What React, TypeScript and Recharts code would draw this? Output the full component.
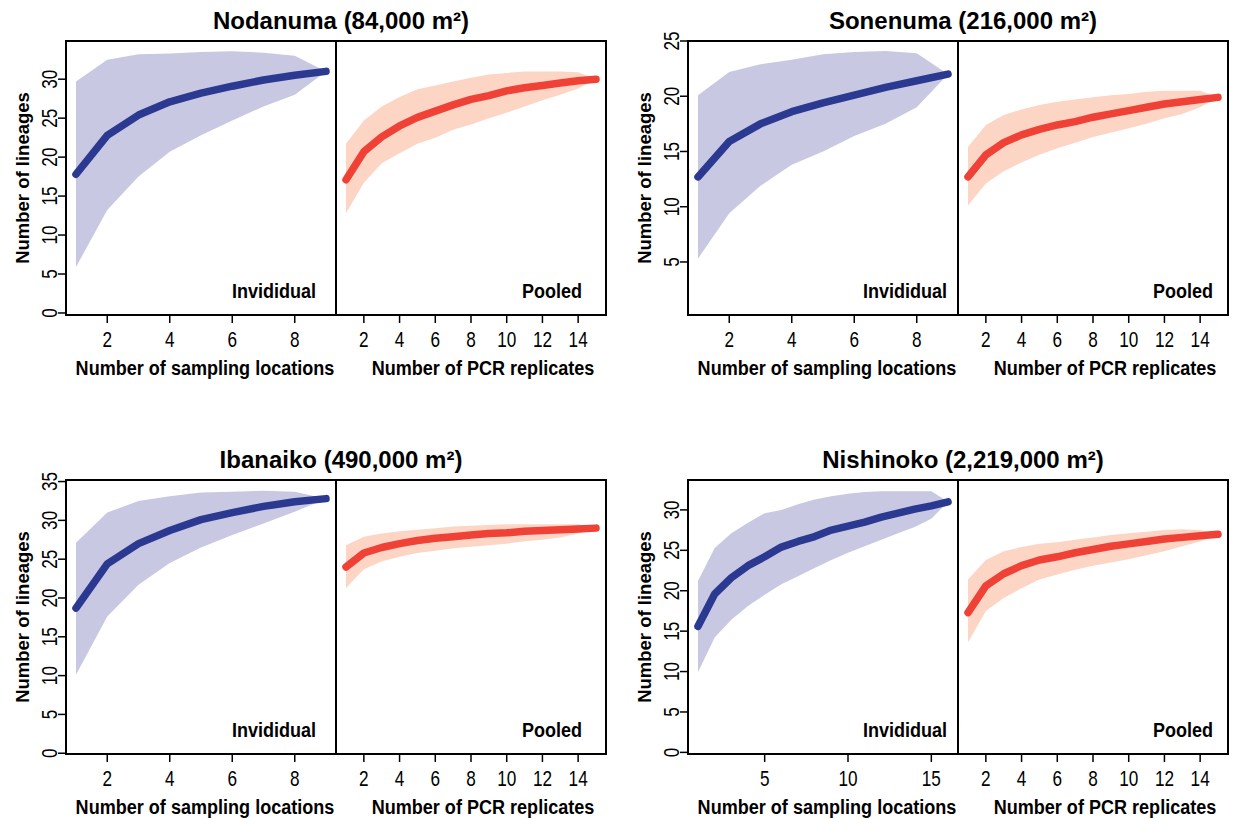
import React from "react";
import { ComposedChart, Area, Line, XAxis, YAxis, ReferenceArea } from "recharts";

const SANS = "'Liberation Sans', Arial, Helvetica, sans-serif";

const BLUE_BAND = "#c8c8e3";
const BLUE_LINE = "#2b3990";
const RED_BAND = "#fdd5c5";
const RED_LINE = "#ef4136";

// x values and tick labels
const locations9 = [1, 2, 3, 4, 5, 6, 7, 8, 9];
const locations16 = [1, 2, 3, 4, 5, 6, 7, 8, 9, 10, 11, 12, 13, 14, 15, 16];
const replicates = [1, 2, 3, 4, 5, 6, 7, 8, 9, 10, 11, 12, 13, 14, 15];
const ticksLoc9 = [2, 4, 6, 8];
const ticksLoc16 = [5, 10, 15];
const ticksRep = [2, 4, 6, 8, 10, 12, 14];
const yTicks30 = [0, 5, 10, 15, 20, 25, 30];
const yTicks25 = [5, 10, 15, 20, 25];
const yTicks35 = [0, 5, 10, 15, 20, 25, 30, 35];

// Nodanuma
const nodaIndMean = [17.8, 22.8, 25.4, 27.1, 28.2, 29.1, 29.9, 30.5, 31.0];
const nodaIndLo = [5.9, 13.2, 17.5, 20.7, 22.8, 24.7, 26.5, 28.0, 31.0];
const nodaIndHi = [29.7, 32.5, 33.2, 33.3, 33.5, 33.6, 33.4, 33.0, 31.0];
const nodaPoolMean = [17.1, 20.7, 22.6, 24.0, 25.1, 25.9, 26.7, 27.4, 27.9, 28.5, 28.9, 29.2, 29.5, 29.8, 30.0];
const nodaPoolLo = [12.8, 16.7, 19.2, 20.5, 21.7, 22.5, 23.5, 24.2, 25.0, 25.7, 26.5, 27.3, 28.0, 28.8, 30.0];
const nodaPoolHi = [21.7, 24.7, 26.5, 27.7, 28.7, 29.2, 29.7, 30.2, 30.6, 30.8, 31.0, 31.0, 31.0, 30.9, 30.0];

// Sonenuma
const soneIndMean = [12.7, 15.9, 17.5, 18.6, 19.4, 20.1, 20.8, 21.4, 22.0];
const soneIndLo = [5.3, 9.4, 11.9, 13.8, 15.0, 16.4, 17.5, 19.0, 22.0];
const soneIndHi = [20.1, 22.2, 22.9, 23.3, 23.8, 24.0, 24.1, 23.9, 22.0];
const sonePoolMean = [12.7, 14.7, 15.8, 16.5, 17.0, 17.4, 17.7, 18.1, 18.4, 18.7, 19.0, 19.3, 19.5, 19.7, 19.9];
const sonePoolLo = [10.1, 12.1, 13.2, 14.0, 14.7, 15.3, 15.8, 16.3, 16.7, 17.1, 17.5, 18.0, 18.4, 19.0, 19.9];
const sonePoolHi = [15.4, 17.4, 18.3, 18.8, 19.2, 19.5, 19.7, 19.9, 20.1, 20.2, 20.4, 20.5, 20.5, 20.5, 19.9];

// Ibanaiko
const ibanIndMean = [18.7, 24.4, 27.0, 28.7, 30.1, 31.0, 31.8, 32.4, 32.8];
const ibanIndLo = [10.1, 17.6, 21.7, 24.5, 26.5, 28.1, 29.6, 31.1, 32.8];
const ibanIndHi = [27.1, 31.0, 32.5, 33.1, 33.6, 33.7, 33.8, 33.7, 32.8];
const ibanPoolMean = [24.0, 25.8, 26.5, 27.0, 27.4, 27.7, 27.9, 28.1, 28.3, 28.4, 28.6, 28.7, 28.8, 28.9, 29.0];
const ibanPoolLo = [21.3, 23.7, 24.7, 25.3, 25.8, 26.1, 26.4, 26.6, 26.8, 27.0, 27.3, 27.5, 27.8, 28.3, 29.0];
const ibanPoolHi = [26.8, 27.9, 28.3, 28.6, 28.8, 29.0, 29.2, 29.3, 29.4, 29.5, 29.5, 29.5, 29.5, 29.5, 29.0];

// Nishinoko
const nishIndMean = [15.6, 19.6, 21.6, 23.1, 24.2, 25.4, 26.1, 26.7, 27.5, 28.0, 28.5, 29.1, 29.6, 30.1, 30.5, 31.0];
const nishIndLo = [9.9, 14.2, 16.4, 18.1, 19.5, 20.8, 21.8, 22.8, 23.8, 24.7, 25.5, 26.3, 27.1, 27.9, 28.9, 31.0];
const nishIndHi = [21.2, 25.3, 27.1, 28.4, 29.6, 30.0, 30.7, 31.3, 31.7, 32.0, 32.2, 32.3, 32.3, 32.3, 32.3, 31.0];
const nishPoolMean = [17.3, 20.6, 22.1, 23.1, 23.8, 24.2, 24.7, 25.1, 25.5, 25.8, 26.1, 26.4, 26.6, 26.8, 27.0];
const nishPoolLo = [13.6, 17.5, 19.1, 20.3, 21.4, 22.0, 22.6, 23.1, 23.5, 23.9, 24.4, 24.9, 25.5, 26.1, 27.0];
const nishPoolHi = [21.4, 23.8, 24.9, 25.4, 25.8, 26.0, 26.3, 26.6, 26.9, 27.1, 27.3, 27.5, 27.6, 27.5, 27.0];

type Row = { x: number; mean: number; band: [number, number] };

const rows = (xs: number[], mean: number[], lo: number[], hi: number[]): Row[] =>
  xs.map((x, i) => ({ x, mean: mean[i], band: [lo[i], hi[i]] }));

// no narrow font installed, so squeeze Liberation Sans horizontally
const NARROW_SCALE = 0.78;

const XTick = (props: any) => {
  const { x, y, payload } = props;
  return (
    <text
      transform={`translate(${x},${y}) scale(${NARROW_SCALE},1)`}
      textAnchor="middle"
      dy="0.71em"
      fill="#000"
      fontSize={22}
      fontFamily={SANS}
    >
      {payload.value}
    </text>
  );
};

const YTick = (props: any) => {
  const { x, y, payload } = props;
  return (
    <text
      transform={`translate(${x},${y}) rotate(-90) scale(${NARROW_SCALE},1)`}
      textAnchor="middle"
      fill="#000"
      fontSize={22}
      fontFamily={SANS}
    >
      {payload.value}
    </text>
  );
};

const axisTitle = (text: string, shift: number) => (props: any) => {
  const vb = props.viewBox;
  const cx = vb.x + vb.width / 2 + shift;
  const by = vb.y + vb.height - 4;
  return (
    <text
      transform={`translate(${cx},${by}) scale(0.86,1)`}
      textAnchor="middle"
      fill="#000"
      fontSize={21}
      fontWeight="bold"
      fontFamily={SANS}
    >
      {text}
    </text>
  );
};

const tagLabel = (text: string, right: number) => (props: any) => {
  const vb = props.viewBox;
  return (
    <text
      transform={`translate(${vb.x + vb.width - right},${vb.y + vb.height - 17}) scale(0.9,1)`}
      textAnchor="end"
      fill="#000"
      fontSize={20}
      fontWeight="bold"
      fontFamily={SANS}
    >
      {text}
    </text>
  );
};

type SubProps = {
  left: number;
  top: number;
  data: Row[];
  xDomain: [number, number];
  xTicks: number[];
  yDomain: [number, number];
  yTicks: number[];
  showY: boolean;
  bandColor: string;
  lineColor: string;
  tag: string;
  tagRight: number;
  xTitle: string;
  xTitleShift: number;
};

const PLOT_W = 270;
const PLOT_H = 274;

function SubPlot(p: SubProps) {
  const padL = p.showY ? 66 : 0;
  const padR = 14;
  const padT = 12;
  const padB = 72;
  return (
    <div style={{ position: "absolute", left: p.left - padL, top: p.top - padT }}>
      <ComposedChart
        width={padL + PLOT_W + padR}
        height={padT + PLOT_H + padB}
        data={p.data}
        margin={{ top: padT, right: padR, bottom: padB - 64, left: 0 }}
      >
        <XAxis
          type="number"
          dataKey="x"
          domain={p.xDomain}
          ticks={p.xTicks}
          interval={0}
          allowDataOverflow
          axisLine={false}
          height={64}
          tickSize={8}
          tickMargin={8}
          tickLine={{ stroke: "#000", strokeWidth: 1.5 }}
          tick={XTick}
          label={{ content: axisTitle(p.xTitle, p.xTitleShift) }}
        />
        {p.showY ? (
          <YAxis
            type="number"
            domain={p.yDomain}
            ticks={p.yTicks}
            interval={0}
            allowDataOverflow
            axisLine={false}
            width={66}
            tickSize={8}
            tickMargin={1}
            tickLine={{ stroke: "#000", strokeWidth: 1.5 }}
            tick={YTick}
            label={{
              value: "Number of lineages",
              angle: -90,
              position: "insideLeft",
              offset: 22,
              fill: "#000",
              fontSize: 18.5,
              fontWeight: "bold",
              fontFamily: SANS,
              style: { textAnchor: "middle" },
            }}
          />
        ) : (
          <YAxis type="number" hide domain={p.yDomain} allowDataOverflow />
        )}
        <Area
          type="linear"
          dataKey="band"
          fill={p.bandColor}
          fillOpacity={1}
          stroke="none"
          isAnimationActive={false}
        />
        <Line
          type="linear"
          dataKey="mean"
          stroke={p.lineColor}
          strokeWidth={7.5}
          strokeLinecap="round"
          strokeLinejoin="round"
          dot={false}
          isAnimationActive={false}
        />
        <ReferenceArea
          x1={p.xDomain[0]}
          x2={p.xDomain[1]}
          y1={p.yDomain[0]}
          y2={p.yDomain[1]}
          fill="none"
          fillOpacity={0}
          stroke="#000"
          strokeWidth={2}
          ifOverflow="visible"
          label={{ content: tagLabel(p.tag, p.tagRight) }}
        />
      </ComposedChart>
    </div>
  );
}

type PanelProps = {
  left: number;
  top: number;
  title: string;
  yDomain: [number, number];
  yTicks: number[];
  indData: Row[];
  indDomain: [number, number];
  indTicks: number[];
  poolData: Row[];
  tagRight: number;
};

function Panel(p: PanelProps) {
  return (
    <>
      <div
        style={{
          position: "absolute",
          left: p.left + PLOT_W - 300,
          width: 610,
          top: p.top - 32,
          textAlign: "center",
          fontFamily: SANS,
          fontWeight: "bold",
          fontSize: 24,
          lineHeight: "24px",
          color: "#000",
        }}
      >
        {p.title}
      </div>
      <SubPlot
        left={p.left}
        top={p.top}
        data={p.indData}
        xDomain={p.indDomain}
        xTicks={p.indTicks}
        yDomain={p.yDomain}
        yTicks={p.yTicks}
        showY
        bandColor={BLUE_BAND}
        lineColor={BLUE_LINE}
        tag="Invididual"
        tagRight={p.tagRight}
        xTitle="Number of sampling locations"
        xTitleShift={4}
      />
      <SubPlot
        left={p.left + PLOT_W}
        top={p.top}
        data={p.poolData}
        xDomain={[0.44, 15.56]}
        xTicks={ticksRep}
        yDomain={p.yDomain}
        yTicks={p.yTicks}
        showY={false}
        bandColor={RED_BAND}
        lineColor={RED_LINE}
        tag="Pooled"
        tagRight={p.tagRight + 4}
        xTitle="Number of PCR replicates"
        xTitleShift={12}
      />
    </>
  );
}

export default function App() {
  return (
    <div style={{ position: "absolute", left: 0, top: 0, width: 1236, height: 819, background: "#fff" }}>
      <Panel
        left={66}
        top={41}
        title="Nodanuma (84,000 m²)"
        yDomain={[-0.26, 34.9]}
        yTicks={yTicks30}
        indData={rows(locations9, nodaIndMean, nodaIndLo, nodaIndHi)}
        indDomain={[0.68, 9.32]}
        indTicks={ticksLoc9}
        poolData={rows(replicates, nodaPoolMean, nodaPoolLo, nodaPoolHi)}
        tagRight={20}
      />
      <Panel
        left={688}
        top={41}
        title="Sonenuma (216,000 m²)"
        yDomain={[0.2, 25]}
        yTicks={yTicks25}
        indData={rows(locations9, soneIndMean, soneIndLo, soneIndHi)}
        indDomain={[0.68, 9.32]}
        indTicks={ticksLoc9}
        poolData={rows(replicates, sonePoolMean, sonePoolLo, sonePoolHi)}
        tagRight={11}
      />
      <Panel
        left={66}
        top={480}
        title="Ibanaiko (490,000 m²)"
        yDomain={[-0.1, 35.2]}
        yTicks={yTicks35}
        indData={rows(locations9, ibanIndMean, ibanIndLo, ibanIndHi)}
        indDomain={[0.68, 9.32]}
        indTicks={ticksLoc9}
        poolData={rows(replicates, ibanPoolMean, ibanPoolLo, ibanPoolHi)}
        tagRight={20}
      />
      <Panel
        left={688}
        top={480}
        title="Nishinoko (2,219,000 m²)"
        yDomain={[-0.2, 33.7]}
        yTicks={yTicks30}
        indData={rows(locations16, nishIndMean, nishIndLo, nishIndHi)}
        indDomain={[0.4, 16.6]}
        indTicks={ticksLoc16}
        poolData={rows(replicates, nishPoolMean, nishPoolLo, nishPoolHi)}
        tagRight={11}
      />
    </div>
  );
}
